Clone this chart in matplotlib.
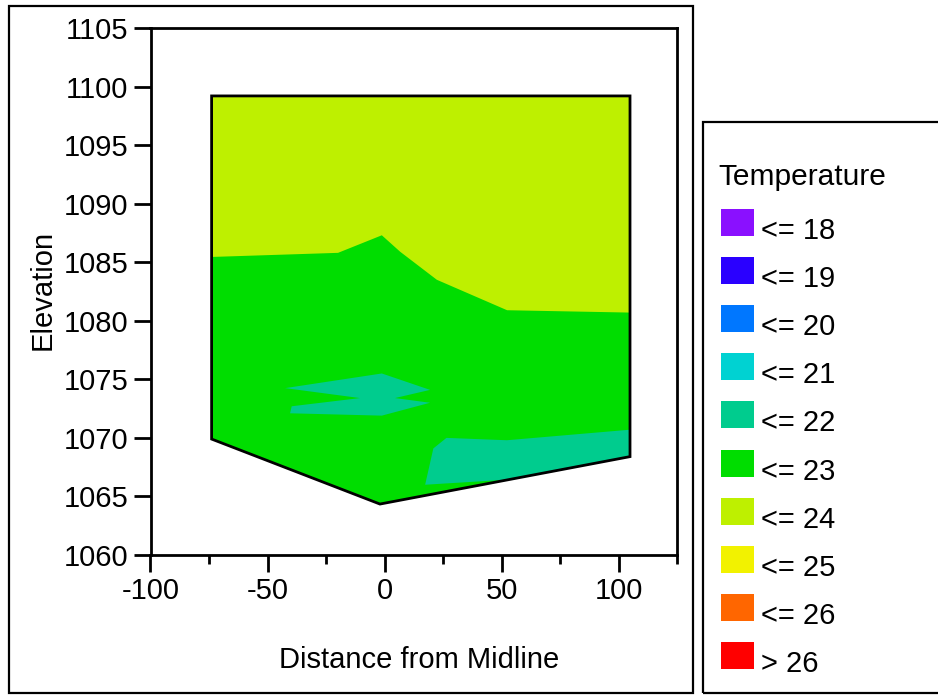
import matplotlib.pyplot as plt
from matplotlib.patches import Rectangle

plt.rcParams['font.family'] = ['Liberation Sans', 'DejaVu Sans']
plt.rcParams['axes.unicode_minus'] = False

# cross-section outline: distance from midline vs elevation
outline_x = [-73.9, 104.8, 104.8, -2.0, -73.9]
outline_y = [1099.2, 1099.2, 1068.4, 1064.35, 1069.9]

# band warmer than 23 (upper part of the section)
warm_x = [-73.9, -19.9, -1.2, 6.6, 22.3, 52.3, 104.8, 104.8, -73.9]
warm_y = [1085.45, 1085.8, 1087.3, 1085.9, 1083.5, 1080.9, 1080.7, 1099.2, 1099.2]

# pockets at or below 22
cool1_x = [-42.5, -1.2, 19.4, 4.4, 19.4, -1.2, -40.4, -39.7, -10.5]
cool1_y = [1074.25, 1075.5, 1074.1, 1073.4, 1073.0, 1071.9, 1072.1, 1072.7, 1073.4]
cool2_x = [26.4, 20.8, 17.3, 53.0, 104.8, 104.8, 52.2]
cool2_y = [1070.0, 1069.1, 1066.0, 1066.44, 1068.4, 1070.7, 1069.8]

levels = ['<= 18', '<= 19', '<= 20', '<= 21', '<= 22',
          '<= 23', '<= 24', '<= 25', '<= 26', '> 26']
level_colors = ['#8A10FF', '#2A00FF', '#0077FF', '#00D2D2', '#00CC8E',
                '#00DD00', '#BEF000', '#F2F200', '#FF6600', '#FF0000']

W, H = 938, 696
fig = plt.figure(figsize=(W / 100, H / 100), dpi=100)


def fx(px):
    return px / W


def fy(py):
    return 1 - py / H


ax = fig.add_axes([fx(150.5), fy(555), fx(677.3) - fx(150.5), fy(28) - fy(555)])

ax.fill(outline_x, outline_y, color=level_colors[5], lw=0)
ax.fill(warm_x, warm_y, color=level_colors[6], lw=0)
ax.fill(cool1_x, cool1_y, color=level_colors[4], lw=0)
ax.fill(cool2_x, cool2_y, color=level_colors[4], lw=0)
ax.fill(outline_x, outline_y, fill=False, edgecolor='black', lw=2.0,
        joinstyle='miter')

ax.set_xlim(-100, 125)
ax.set_ylim(1060, 1105)
ax.set_xticks([-100, -50, 0, 50, 100])
ax.set_xticks([-75, -25, 25, 75, 125], minor=True)
ax.set_yticks(range(1060, 1106, 5))
ax.tick_params(which='major', direction='out', length=12, width=2,
               labelsize=21, pad=4)
ax.tick_params(which='minor', axis='x', direction='out', length=6.5, width=2)
for s in ax.spines.values():
    s.set_linewidth(2)

fig.text(fx(419), fy(660), 'Distance from Midline', fontsize=21,
         ha='center', va='center')
fig.text(fx(43), fy(290), 'Elevation', fontsize=21, rotation=90,
         ha='center', va='center')

# outer frame around the plot
fig.add_artist(Rectangle((fx(9), fy(693)), fx(693) - fx(9), fy(6) - fy(693),
                         transform=fig.transFigure, fill=False, lw=1.6,
                         edgecolor='black'))

# legend panel
fig.add_artist(Rectangle((fx(703), fy(693)), fx(960) - fx(703), fy(122) - fy(693),
                         transform=fig.transFigure, fill=False, lw=1.6,
                         edgecolor='black', clip_on=False))
fig.text(fx(718), fy(185), 'Temperature', fontsize=21.5, va='baseline')
for i, (lab, col) in enumerate(zip(levels, level_colors)):
    top = 209 + i * 48.1
    fig.add_artist(Rectangle((fx(721), fy(top + 27)), fx(754) - fx(721),
                             fy(top) - fy(top + 27), transform=fig.transFigure,
                             facecolor=col, edgecolor='none'))
    fig.text(fx(761), fy(top + 30), lab, fontsize=21, va='baseline')

fig.savefig('out.png', dpi=100)
